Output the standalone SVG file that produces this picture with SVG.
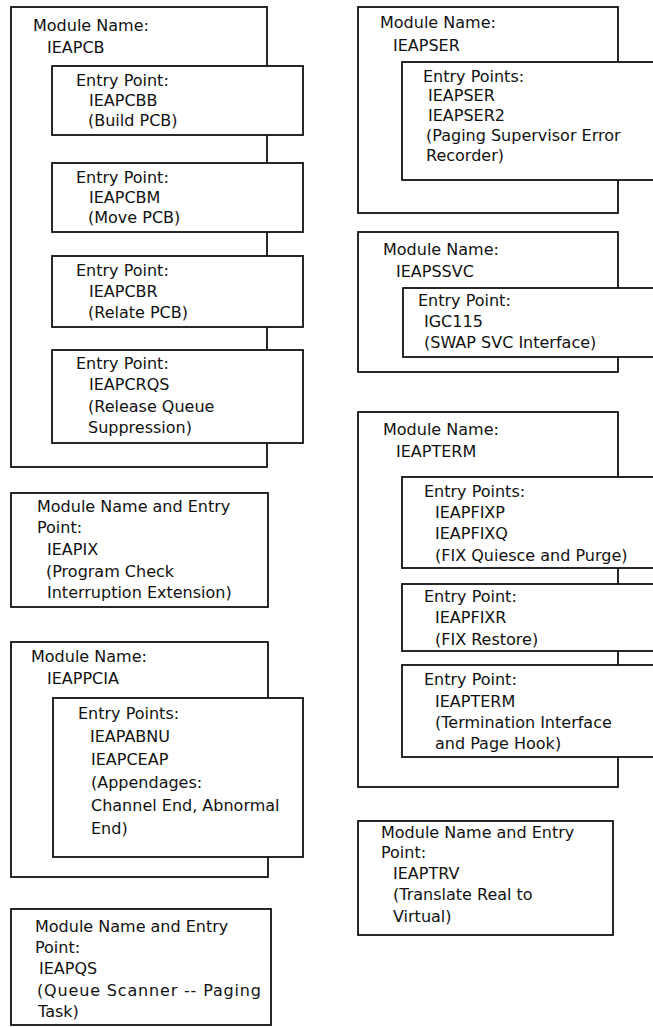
<svg xmlns="http://www.w3.org/2000/svg" width="653" height="1027" viewBox="0 0 653 1027">
<style>
.box{fill:#fff;stroke:#111;stroke-width:1.8}
text{font-family:"DejaVu Sans","Liberation Sans",sans-serif;font-size:16px;fill:#111}
</style>
<rect x="0" y="0" width="653" height="1027" fill="#fff"/>
<g id="connectors"/>
<g id="IEAPCB">
<rect class="box" x="11" y="7" width="256" height="460"/>
<text x="33" y="31">Module Name:</text>
<text x="47" y="53">IEAPCB</text>
<g id="IEAPCBB">
<rect class="box" x="52" y="66" width="251" height="69"/>
<text x="76" y="86">Entry Point:</text>
<text x="89" y="106">IEAPCBB</text>
<text x="88" y="126">(Build PCB)</text>
</g>
<g id="IEAPCBM">
<rect class="box" x="52" y="163" width="251" height="69"/>
<text x="76" y="183">Entry Point:</text>
<text x="89" y="203">IEAPCBM</text>
<text x="88" y="223">(Move PCB)</text>
</g>
<g id="IEAPCBR">
<rect class="box" x="52" y="256" width="251" height="71"/>
<text x="76" y="276">Entry Point:</text>
<text x="89" y="297">IEAPCBR</text>
<text x="88" y="318">(Relate PCB)</text>
</g>
<g id="IEAPCRQS">
<rect class="box" x="52" y="350" width="251" height="93"/>
<text x="76" y="369">Entry Point:</text>
<text x="89" y="390">IEAPCRQS</text>
<text x="88" y="412">(Release Queue</text>
<text x="88" y="433">Suppression)</text>
</g>
</g>
<g id="IEAPIX">
<rect class="box" x="11" y="493" width="257" height="114"/>
<text x="37" y="512">Module Name and Entry</text>
<text x="37" y="533">Point:</text>
<text x="47" y="555">IEAPIX</text>
<text x="46" y="577">(Program Check</text>
<text x="47" y="598">Interruption Extension)</text>
</g>
<g id="IEAPPCIA">
<rect class="box" x="11" y="642" width="257" height="235"/>
<text x="31" y="662">Module Name:</text>
<text x="47" y="684">IEAPPCIA</text>
<g id="IEAPPCIA-entry">
<rect class="box" x="53" y="698" width="250" height="159"/>
<text x="78" y="719">Entry Points:</text>
<text x="90" y="742">IEAPABNU</text>
<text x="91" y="765">IEAPCEAP</text>
<text x="91" y="788">(Appendages:</text>
<text x="91" y="811">Channel End, Abnormal</text>
<text x="91" y="834">End)</text>
</g>
</g>
<g id="IEAPQS">
<rect class="box" x="11" y="909" width="260" height="116"/>
<text x="35" y="932">Module Name and Entry</text>
<text x="35" y="953">Point:</text>
<text x="39" y="974">IEAPQS</text>
<text x="37" y="996" textLength="224" lengthAdjust="spacing">(Queue Scanner -- Paging</text>
<text x="38" y="1017">Task)</text>
</g>
<g id="IEAPSER">
<rect class="box" x="358" y="7" width="260" height="206"/>
<text x="380" y="28">Module Name:</text>
<text x="393" y="51">IEAPSER</text>
<g id="IEAPSER-entry">
<rect class="box" x="402" y="62" width="262" height="118"/>
<text x="423" y="82">Entry Points:</text>
<text x="428" y="101">IEAPSER</text>
<text x="428" y="121">IEAPSER2</text>
<text x="426" y="141">(Paging Supervisor Error</text>
<text x="426" y="161">Recorder)</text>
</g>
</g>
<g id="IEAPSSVC">
<rect class="box" x="358" y="232" width="260" height="140"/>
<text x="383" y="255">Module Name:</text>
<text x="396" y="277">IEAPSSVC</text>
<g id="IGC115">
<rect class="box" x="403" y="288" width="261" height="69"/>
<text x="418" y="306">Entry Point:</text>
<text x="424" y="327">IGC115</text>
<text x="424" y="348">(SWAP SVC Interface)</text>
</g>
</g>
<g id="IEAPTERM">
<rect class="box" x="358" y="412" width="260" height="375"/>
<text x="383" y="435">Module Name:</text>
<text x="396" y="457">IEAPTERM</text>
<g id="IEAPFIXP">
<rect class="box" x="402" y="477" width="262" height="91"/>
<text x="424" y="497">Entry Points:</text>
<text x="435" y="518">IEAPFIXP</text>
<text x="435" y="539">IEAPFIXQ</text>
<text x="435" y="561">(FIX Quiesce and Purge)</text>
</g>
<g id="IEAPFIXR">
<rect class="box" x="402" y="584" width="262" height="67"/>
<text x="424" y="602">Entry Point:</text>
<text x="435" y="623">IEAPFIXR</text>
<text x="435" y="645">(FIX Restore)</text>
</g>
<g id="IEAPTERM-entry">
<rect class="box" x="402" y="665" width="262" height="92"/>
<text x="424" y="685">Entry Point:</text>
<text x="435" y="707">IEAPTERM</text>
<text x="435" y="728">(Termination Interface</text>
<text x="435" y="749">and Page Hook)</text>
</g>
</g>
<g id="IEAPTRV">
<rect class="box" x="358" y="821" width="255" height="114"/>
<text x="381" y="838">Module Name and Entry</text>
<text x="381" y="858">Point:</text>
<text x="393" y="879">IEAPTRV</text>
<text x="393" y="900">(Translate Real to</text>
<text x="393" y="922">Virtual)</text>
</g>
</svg>
